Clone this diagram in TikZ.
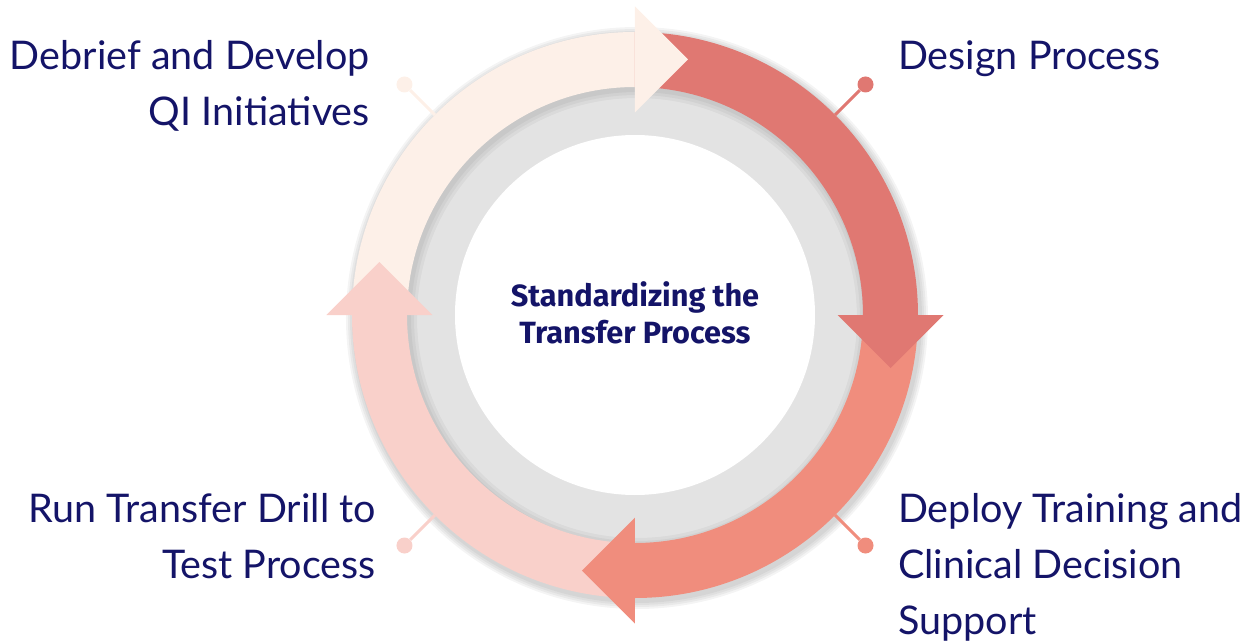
\documentclass[tikz,border=0pt]{standalone}
\usepackage{fontspec}
\setmainfont{Lato}
\newfontfamily\centrefont{Fira Sans}
\usetikzlibrary{calc}
\definecolor{navy}{RGB}{20,20,104}
\definecolor{stepcream}{RGB}{253,240,232}
\definecolor{stepred}{RGB}{224,120,114}
\definecolor{stepsalmon}{RGB}{240,141,125}
\definecolor{steppink}{RGB}{249,208,202}
\definecolor{ringgray}{RGB}{227,227,227}

\begin{document}
\begin{tikzpicture}[x=1pt, y=1pt,
  steplabel/.style={text=navy, inner sep=0pt, font=\fontsize{39.5}{56}\selectfont},
  pindot/.style={circle, inner sep=0pt, minimum size=16pt},
  pinline/.style={line width=3pt}]
\def \rout   {283};
\def \rin    {228};
\def \rmid   {255.5};
\def \rhead  {53};
\def \rwhite {180};
\def \rpin   {326};

\useasboundingbox (-635,-328) rectangle (613,315);

% soft shadow round the ring
\foreach \s in {8,6,4,2}
  \fill[black, opacity=0.045] (2,-3) circle (\rout+\s);

% pins
\foreach \n/\a/\c in {pdesign/45/stepred, pdeploy/-45/stepsalmon, pdrill/-135/steppink, pdebrief/135/stepcream} {
  \coordinate (\n edge) at (\a:\rout);
  \node[pindot, fill=\c] (\n) at (\a:\rpin) {};
  \draw[pinline, \c] (\n edge) -- (\n);
}

\fill[ringgray] (0,0) circle (\rin+4);
\foreach \s in {8,5,2}
  \fill[black, opacity=0.04, even odd rule] (2,-3) circle (\rin+4) circle (\rin-\s);
\fill[white] (0,0) circle (\rwhite);

% shafts
\foreach \a/\c in {180/stepcream, 90/stepred, 0/stepsalmon, -90/steppink}
  \fill[\c] (\a:\rout) arc[start angle=\a, end angle=\a-90, radius=\rout]
    -- (\a-90:\rin) arc[start angle=\a-90, end angle=\a, radius=\rin] -- cycle;

% heads
\foreach \a/\c in {90/stepcream, 0/stepred, -90/stepsalmon, 180/steppink}
  \fill[\c] (\a:\rmid-\rhead) -- (\a:\rmid+\rhead) -- ($(\a:\rmid)+(\a-90:\rhead)$) -- cycle;

\node[text=navy, align=center, anchor=base, inner sep=0pt,
  font=\centrefont\bfseries\fontsize{30.7}{36.7}\selectfont] (title) at (0,-28.3) {Standardizing the\\Transfer Process};

\node[steplabel, anchor=base west] (design) at (263,245) {Design Process};
\node[steplabel, anchor=base east, align=right] (debrief) at (-265,189) {Debrief and Develop\\QI Initiatives};
\node[steplabel, anchor=base west, align=left] (deploy) at (263,-319.3) {Deploy Training and\\Clinical Decision\\Support};
\node[steplabel, anchor=base east, align=right] (drill) at (-259,-263.3) {Run Transfer Drill to\\Test Process};

\end{tikzpicture}
\end{document}
